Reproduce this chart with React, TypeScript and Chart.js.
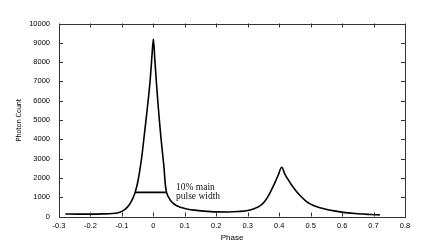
import React, { useEffect, useRef } from "react";
import { Chart, registerables } from "chart.js";

Chart.register(...registerables);

const phase = [
  -0.28, -0.24, -0.2, -0.16, -0.13, -0.115, -0.105, -0.095, -0.085, -0.075, -0.065, -0.058,
  -0.05, -0.043, -0.036, -0.029, -0.022, -0.016, -0.01, -0.005, 0,
  0.004, 0.009, 0.014, 0.019, 0.024, 0.029, 0.034, 0.038, 0.042, 0.05, 0.058, 0.068, 0.08,
  0.095, 0.11, 0.13, 0.16, 0.2, 0.24, 0.27, 0.3, 0.32, 0.34, 0.355, 0.37, 0.385, 0.397,
  0.408, 0.418, 0.428, 0.44, 0.453, 0.468, 0.485, 0.5, 0.52, 0.545, 0.575, 0.61, 0.65,
  0.69, 0.72,
];
const counts = [
  130, 125, 125, 135, 155, 185, 230, 320, 450, 650, 950, 1250,
  1750, 2400, 3200, 4200, 5200, 6100, 7100, 8200, 9200,
  8300, 7100, 6000, 5000, 4100, 3300, 2500, 1650, 1250, 950, 760, 620, 520,
  440, 380, 330, 280, 240, 235, 260, 310, 400, 560, 800, 1200, 1700, 2150,
  2550, 2200, 1920, 1620, 1340, 1060, 800, 640, 500, 390, 290, 200, 140,
  105, 85,
];
const widthPhase = [-0.058, 0.042];
const widthCount = [1250, 1250];
const xTicks = [-0.3, -0.2, -0.1, 0, 0.1, 0.2, 0.3, 0.4, 0.5, 0.6, 0.7, 0.8];
const xTickLabels = ["-0.3", "-0.2", "-0.1", "0", "0.1", "0.2", "0.3", "0.4", "0.5", "0.6", "0.7", "0.8"];
const yTicks = [0, 1000, 2000, 3000, 4000, 5000, 6000, 7000, 8000, 9000, 10000];
const annotationLines = ["10% main", "pulse width"];
const annotationPhase = 0.072;
const annotationCounts = [1480, 1030];

const framePlugin = {
  id: "frame",
  afterDraw(chart: any) {
    const { ctx, chartArea } = chart;
    const { left, right, top, bottom } = chartArea;
    const xs = chart.scales.x;
    const ys = chart.scales.y;
    ctx.save();
    ctx.strokeStyle = "#333";
    ctx.lineWidth = 1;
    ctx.strokeRect(Math.round(left) + 0.5, Math.round(top) + 0.5, Math.round(right - left), Math.round(bottom - top));
    ctx.beginPath();
    const tl = 4;
    xTicks.forEach((v) => {
      const px = Math.round(xs.getPixelForValue(v)) + 0.5;
      ctx.moveTo(px, bottom);
      ctx.lineTo(px, bottom - tl);
      ctx.moveTo(px, top);
      ctx.lineTo(px, top + tl);
    });
    yTicks.forEach((v) => {
      const py = Math.round(ys.getPixelForValue(v)) + 0.5;
      ctx.moveTo(left, py);
      ctx.lineTo(left + tl, py);
      ctx.moveTo(right, py);
      ctx.lineTo(right - tl, py);
    });
    ctx.stroke();
    ctx.fillStyle = "#111";
    ctx.font = "9.5px 'Liberation Serif', serif";
    ctx.textAlign = "left";
    ctx.textBaseline = "middle";
    annotationLines.forEach((t, i) => {
      ctx.fillText(t, xs.getPixelForValue(annotationPhase), ys.getPixelForValue(annotationCounts[i]));
    });
    ctx.restore();
  },
};

export default function App() {
  const ref = useRef<HTMLCanvasElement>(null);
  useEffect(() => {
    if (!ref.current) return;
    const chart = new Chart(ref.current, {
      type: "line",
      data: {
        datasets: [
          {
            data: phase.map((p, i) => ({ x: p, y: counts[i] })),
            borderColor: "#000",
            borderWidth: 1.6,
            pointRadius: 0,
            cubicInterpolationMode: "monotone",
            fill: false,
          },
          {
            data: widthPhase.map((p, i) => ({ x: p, y: widthCount[i] })),
            borderColor: "#000",
            borderWidth: 1.6,
            pointRadius: 0,
            fill: false,
          },
        ],
      },
      options: {
        animation: false,
        responsive: true,
        maintainAspectRatio: false,
        layout: { padding: { left: 0, top: 23.5, right: 31, bottom: 0 } },
        plugins: { legend: { display: false }, tooltip: { enabled: false } },
        scales: {
          x: {
            type: "linear",
            min: -0.3,
            max: 0.8,
            grid: { display: false, drawTicks: false },
            border: { display: false },
            afterBuildTicks: (s: any) => {
              s.ticks = xTicks.map((v) => ({ value: v }));
            },
            afterFit: (s: any) => {
              s.height = 28.5;
            },
            ticks: {
              padding: 5,
              color: "#000",
              font: { family: "'Liberation Sans', Arial, sans-serif", size: 7.5 },
              maxRotation: 0,
              autoSkip: false,
              callback: (v: any) => {
                const i = xTicks.findIndex((t) => Math.abs(t - Number(v)) < 1e-9);
                return i >= 0 ? xTickLabels[i] : "";
              },
            },
            title: {
              display: true,
              text: "Phase",
              color: "#000",
              font: { family: "'Liberation Sans', Arial, sans-serif", size: 8 },
              padding: { top: 0, bottom: 2 },
            },
          },
          y: {
            min: 0,
            max: 10000,
            grid: { display: false, drawTicks: false },
            border: { display: false },
            afterBuildTicks: (s: any) => {
              s.ticks = yTicks.map((v) => ({ value: v }));
            },
            afterFit: (s: any) => {
              s.width = 59;
            },
            ticks: {
              padding: 9,
              color: "#000",
              font: { family: "'Liberation Sans', Arial, sans-serif", size: 7.5 },
              autoSkip: false,
              callback: (v: any) => String(v),
            },
            title: {
              display: true,
              text: "Photon Count",
              color: "#000",
              font: { family: "'Liberation Sans Narrow', 'DejaVu Sans Condensed', sans-serif", size: 7 },
              padding: { top: 15, bottom: 0 },
            },
          },
        },
      },
      plugins: [framePlugin],
    });
    return () => chart.destroy();
  }, []);
  return (
    <div style={{ position: "fixed", left: 0, top: 0, width: 436, height: 245, background: "#fff" }}>
      <canvas ref={ref} />
    </div>
  );
}
